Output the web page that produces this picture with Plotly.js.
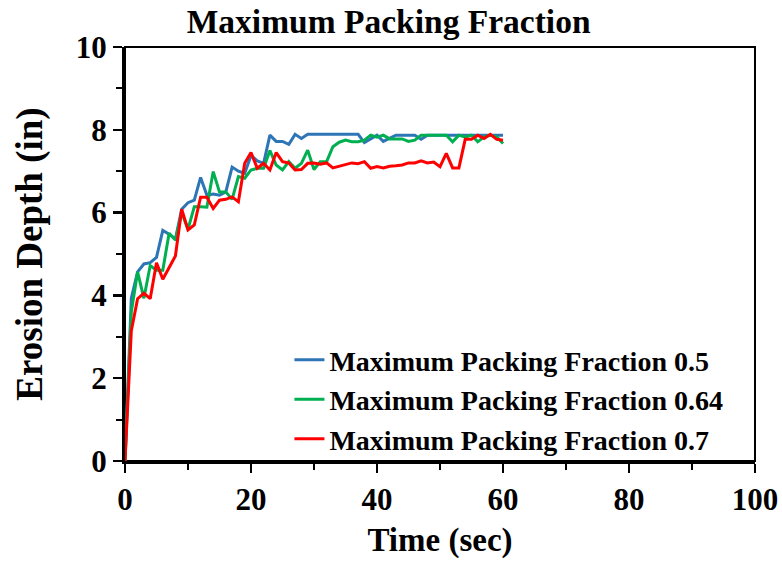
<!DOCTYPE html>
<html>
<head>
<meta charset="utf-8">
<script src="https://cdn.plot.ly/plotly-3.0.1.min.js"></script>
<style>html,body{margin:0;padding:0;background:#fff;}#chart{width:782px;height:562px;}</style>
</head>
<body>
<div id="chart"></div>
<script>
const timeSec = [0,1,2,3,4,5,6,7,8,9,10,11,12,13,14,15,16,17,18,19,20,21,22,23,24,25,26,27,28,29,30,31,32,33,34,35,36,37,38,39,40,41,42,43,44,45,46,47,48,49,50,51,52,53,54,55,56,57,58,59,60];
const depth050 = [0,3.93,4.57,4.76,4.79,4.92,5.57,5.48,5.36,6.08,
  6.24,6.30,6.85,6.42,6.45,6.42,6.50,7.10,7.00,6.95,
  7.38,7.25,7.19,7.87,7.72,7.72,7.65,7.89,7.79,7.89,
  7.89,7.89,7.89,7.89,7.89,7.89,7.89,7.89,7.69,7.79,
  7.87,7.72,7.80,7.87,7.87,7.87,7.87,7.77,7.87,7.87,
  7.87,7.87,7.87,7.87,7.87,7.87,7.87,7.87,7.87,7.87,7.87];
const depth064 = [0,3.6,4.57,3.93,4.72,4.61,4.61,5.5,5.34,6.0,
  5.6,6.14,6.14,6.13,6.99,6.5,6.5,6.32,6.87,6.83,
  7.03,7.07,7.07,7.5,7.15,7.03,7.23,7.07,7.19,7.51,
  7.04,7.23,7.23,7.59,7.7,7.75,7.71,7.71,7.75,7.87,
  7.82,7.87,7.78,7.78,7.78,7.72,7.75,7.87,7.87,7.87,
  7.87,7.87,7.71,7.87,7.83,7.87,7.71,7.83,7.87,7.83,7.67];
const depth070 = [0,3.14,3.92,4.05,3.92,4.79,4.39,4.66,4.95,6.08,
  5.58,5.7,6.37,6.37,6.1,6.3,6.32,6.38,6.26,7.19,
  7.45,7.07,7.19,7.03,7.45,7.23,7.2,7.03,7.04,7.19,
  7.2,7.17,7.2,7.08,7.12,7.16,7.2,7.18,7.23,7.07,
  7.11,7.08,7.12,7.13,7.15,7.2,7.2,7.25,7.2,7.22,
  7.11,7.43,7.08,7.08,7.77,7.77,7.87,7.79,7.89,7.77,7.75];
const seriesNames = ['Maximum Packing Fraction 0.5','Maximum Packing Fraction 0.64','Maximum Packing Fraction 0.7'];
const seriesColors = ['#2E75B6','#00B050','#FF0000'];
const xTickVals = [0,20,40,60,80,100];
const yTickVals = [0,2,4,6,8,10];

const font = 'Liberation Serif, Times New Roman, serif';
const ys = [depth050, depth064, depth070];
const traces = ys.map((y,i)=>({
  x: timeSec, y: y, type:'scatter', mode:'lines', name: '<b>'+seriesNames[i]+'</b>',
  line:{color: seriesColors[i], width:3}, cliponaxis:false
}));

const layout = {
  width:782, height:562,
  margin:{l:125, r:27, t:47, b:101},
  paper_bgcolor:'#fff', plot_bgcolor:'#fff',
  font:{family:font, color:'#000'},
  title:{text:'<b>Maximum Packing Fraction</b>', font:{family:font, size:33.5, color:'#000'},
    x:0.497, xref:'container', xanchor:'center', y:0.962, yref:'container', yanchor:'middle'},
  xaxis:{range:[0,100], tickvals:xTickVals, ticktext:xTickVals.map(v=>'<b>'+v+'</b>'),
    ticks:'outside', ticklen:9, tickwidth:2.5, tickcolor:'#000',
    minor:{dtick:10, ticks:'outside', ticklen:6, tickwidth:2, tickcolor:'#000'},
    showline:true, linewidth:3, linecolor:'#000', showgrid:false, zeroline:false,
    tickfont:{family:font, size:31, color:'#000'}, layer:'below traces',
    title:{text:'<b>Time (sec)</b>', font:{family:font, size:33, color:'#000'}, standoff:12}},
  yaxis:{range:[0,10], tickvals:yTickVals, ticktext:yTickVals.map(v=>'<b>'+v+'</b>'),
    ticks:'outside', ticklen:9, tickwidth:2.5, tickcolor:'#000',
    minor:{dtick:1, ticks:'outside', ticklen:6, tickwidth:2, tickcolor:'#000'},
    showline:true, linewidth:3, linecolor:'#000', showgrid:false, zeroline:false,
    tickfont:{family:font, size:31, color:'#000'}, layer:'below traces',
    title:{text:'<b>Erosion Depth (in)</b>', font:{family:font, size:37, color:'#000'}, standoff:22}},
  shapes:[{type:'rect', xref:'paper', yref:'paper', x0:0, x1:1, y0:0, y1:1, line:{color:'#000', width:2}, layer:'below'}],
  showlegend:true,
  legend:{x:0.261, xanchor:'left', y:0.304, yanchor:'top', bgcolor:'rgba(0,0,0,0)',
    font:{family:font, size:28, color:'#000'}, tracegroupgap:0, itemwidth:30},
};
Plotly.newPlot('chart', traces, layout, {displayModeBar:false, staticPlot:true});
</script>
</body>
</html>
